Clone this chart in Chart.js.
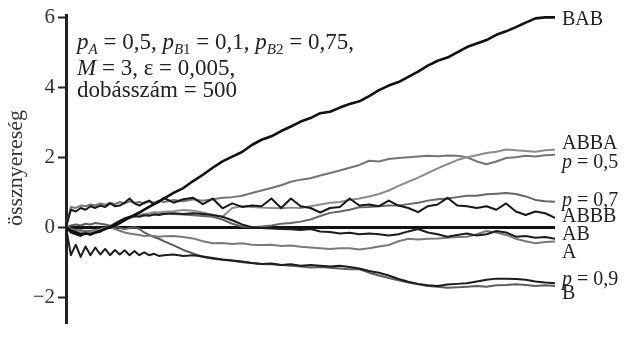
<!DOCTYPE html>
<html>
<head>
<meta charset="utf-8">
<script src="https://cdn.jsdelivr.net/npm/chart.js@4.4.1/dist/chart.umd.min.js"></script>
<style>
  html, body { margin: 0; padding: 0; background: #fff; }
  #c { display: block; }
</style>
</head>
<body>
<canvas id="c" width="626" height="339"></canvas>
<script>
// dobásszám (x), step 5 for the first 100 games, then 10
const games = [0,5,10,15,20,25,30,35,40,45,50,55,60,65,70,75,80,85,90,95,100,
  110,120,130,140,150,160,170,180,190,200,210,220,230,240,250,260,270,280,290,300,
  310,320,330,340,350,360,370,380,390,400,410,420,430,440,450,460,470,480,490,500];

// össznyereség per strategy
const bab = [0,-0.1,-0.15,-0.2,-0.18,-0.2,-0.15,-0.12,-0.05,0,0.05,0.12,0.2,0.28,0.35,0.42,0.5,0.58,0.66,0.74,0.82,
  0.98,1.12,1.32,1.5,1.7,1.88,2.02,2.15,2.35,2.5,2.6,2.75,2.88,3.02,3.12,3.26,3.3,3.42,3.52,3.6,
  3.75,3.92,4.05,4.15,4.3,4.45,4.62,4.76,4.85,5.0,5.15,5.25,5.35,5.5,5.6,5.72,5.85,5.97,6.0,6.0];
const abbb = [0,0.5,0.45,0.55,0.5,0.6,0.55,0.62,0.58,0.68,0.6,0.62,0.7,0.82,0.68,0.62,0.7,0.76,0.65,0.72,0.84,
  0.7,0.8,0.84,0.66,0.82,0.54,0.68,0.58,0.62,0.6,0.82,0.55,0.82,0.6,0.55,0.42,0.55,0.58,0.82,0.62,
  0.65,0.6,0.76,0.62,0.55,0.43,0.6,0.65,0.84,0.62,0.6,0.55,0.6,0.5,0.68,0.45,0.35,0.45,0.4,0.27];
const ab = [0,-0.15,-0.2,-0.25,-0.18,-0.22,-0.15,-0.1,-0.05,0.02,0.1,0.18,0.25,0.3,0.32,0.3,0.34,0.33,0.36,0.35,0.38,
  0.4,0.38,0.4,0.38,0.35,0.3,0.2,0.08,0.0,-0.02,-0.04,-0.05,-0.06,-0.08,-0.05,-0.12,-0.14,-0.18,-0.16,-0.2,
  -0.18,-0.2,-0.24,-0.2,-0.12,-0.05,-0.15,-0.2,-0.27,-0.22,-0.18,-0.24,-0.2,-0.11,-0.15,-0.27,-0.25,-0.3,-0.28,-0.33];
const p09 = [0,-0.8,-0.5,-0.85,-0.55,-0.8,-0.58,-0.78,-0.62,-0.8,-0.65,-0.78,-0.66,-0.8,-0.68,-0.8,-0.72,-0.8,-0.76,-0.82,-0.8,
  -0.78,-0.82,-0.8,-0.84,-0.88,-0.92,-0.95,-0.98,-1.02,-1.05,-1.04,-1.08,-1.06,-1.1,-1.08,-1.1,-1.12,-1.1,-1.14,-1.18,
  -1.25,-1.3,-1.38,-1.48,-1.56,-1.62,-1.66,-1.68,-1.64,-1.62,-1.6,-1.55,-1.5,-1.47,-1.47,-1.48,-1.5,-1.55,-1.58,-1.6];
const abba = [0,-0.1,-0.15,-0.12,-0.2,-0.15,-0.1,-0.08,-0.02,0.02,0.08,0.15,0.2,0.26,0.3,0.35,0.38,0.4,0.43,0.42,0.44,
  0.46,0.49,0.47,0.42,0.35,0.3,0.55,0.6,0.58,0.56,0.55,0.54,0.56,0.55,0.6,0.65,0.7,0.72,0.78,0.82,
  0.88,0.95,1.05,1.18,1.3,1.42,1.55,1.68,1.8,1.92,2.0,2.06,2.12,2.16,2.22,2.2,2.18,2.16,2.2,2.22];
const p05 = [0,0.58,0.55,0.62,0.6,0.65,0.62,0.68,0.64,0.7,0.66,0.72,0.68,0.74,0.7,0.72,0.68,0.74,0.7,0.76,0.72,
  0.78,0.74,0.8,0.76,0.8,0.84,0.86,0.9,0.98,1.05,1.12,1.2,1.3,1.36,1.4,1.48,1.55,1.62,1.7,1.78,
  1.9,1.88,1.95,1.98,2.0,2.02,2.04,2.03,2.05,2.04,2.0,1.88,1.8,1.88,1.98,2.0,2.04,2.02,2.06,2.07];
const p07 = [0,-0.05,-0.1,-0.08,-0.12,-0.1,-0.08,-0.05,-0.02,0.03,0.1,0.18,0.24,0.28,0.32,0.35,0.36,0.38,0.4,0.41,0.4,
  0.38,0.36,0.34,0.32,0.3,0.22,0.1,0.02,0.0,0.02,0.05,0.1,0.12,0.16,0.22,0.32,0.41,0.45,0.5,0.57,
  0.58,0.6,0.62,0.62,0.66,0.7,0.76,0.8,0.82,0.86,0.9,0.9,0.94,0.96,0.98,0.95,0.88,0.78,0.74,0.73];
const a = [0,-0.05,-0.08,-0.12,-0.1,-0.15,-0.12,-0.08,-0.04,0,-0.05,-0.1,-0.15,-0.18,-0.2,-0.22,-0.25,-0.24,-0.25,-0.27,-0.26,
  -0.25,-0.28,-0.32,-0.4,-0.46,-0.45,-0.48,-0.46,-0.5,-0.51,-0.5,-0.54,-0.52,-0.56,-0.58,-0.6,-0.62,-0.6,-0.6,-0.64,
  -0.6,-0.55,-0.51,-0.4,-0.33,-0.35,-0.33,-0.32,-0.3,-0.28,-0.27,-0.2,-0.11,-0.15,-0.22,-0.33,-0.4,-0.46,-0.42,-0.41];
const b = [0,0.05,0.08,0.05,0.1,0.08,0.12,0.1,0.08,0.04,0.02,-0.02,-0.05,-0.02,0,-0.05,-0.15,-0.22,-0.28,-0.33,-0.4,
  -0.52,-0.65,-0.75,-0.85,-0.9,-0.93,-0.96,-1.0,-1.02,-1.05,-1.06,-1.08,-1.1,-1.12,-1.15,-1.14,-1.16,-1.18,-1.2,-1.2,
  -1.3,-1.38,-1.45,-1.52,-1.58,-1.63,-1.68,-1.7,-1.73,-1.72,-1.7,-1.68,-1.7,-1.66,-1.65,-1.63,-1.65,-1.68,-1.66,-1.68];

const yTicks = [-2, 0, 2, 4, 6];

// first ones end up on top
const seriesNames = ['BAB', 'ABBB', 'AB', 'p = 0,9', 'ABBA', 'p = 0,5', 'p = 0,7', 'A', 'B'];
const seriesValues = [bab, abbb, ab, p09, abba, p05, p07, a, b];
const seriesColors = ['#111', '#181818', '#1c1c1c', '#1c1c1c', '#8c8c8c', '#747474', '#666', '#7a7a7a', '#5c5c5c'];

// line-end labels and the value their cap-centre sits at
const labelNames = ['BAB', 'ABBA', 'p = 0,5', 'p = 0,7', 'ABBB', 'AB', 'A', 'p = 0,9', 'B'];
const labelY = [5.99, 2.43, 1.9, 0.8, 0.34, -0.16, -0.67, -1.44, -1.85];

const serif = "'Liberation Serif', 'Times New Roman', serif";

// annotation, [text, style]: i = italic, s = subscript, si = italic subscript
const note = [
  [['p', 'i'], ['A', 'si'], [' = 0,5, ', ''], ['p', 'i'], ['B', 'si'], ['1', 's'], [' = 0,1, ', ''],
   ['p', 'i'], ['B', 'si'], ['2', 's'], [' = 0,75,', '']],
  [['M', 'i'], [' = 3, ε = 0,005,', '']],
  [['dobásszám = 500', '']]
];
const noteBase = [49, 75, 97];

function drawRich(ctx, parts, x, y, size) {
  parts.forEach(function(p) {
    var sub = p[1].indexOf('s') >= 0;
    var it = p[1].indexOf('i') >= 0;
    var fs = sub ? Math.round(size * 0.66) : size;
    ctx.font = (it ? 'italic ' : '') + fs + 'px ' + serif;
    ctx.fillText(p[0], x, y + (sub ? size * 0.22 : 0));
    x += ctx.measureText(p[0]).width;
  });
}

function labelParts(name) {
  if (name.charAt(0) === 'p') return [['p', 'i'], [name.slice(1), '']];
  return [[name, '']];
}

const textPlugin = {
  id: 'texts',
  afterDraw: function(chart) {
    var ctx = chart.ctx, ys = chart.scales.y, area = chart.chartArea;
    ctx.save();
    ctx.fillStyle = '#222';
    ctx.textAlign = 'left';
    ctx.textBaseline = 'alphabetic';
    note.forEach(function(parts, i) { drawRich(ctx, parts, 77, noteBase[i], 23); });

    labelNames.forEach(function(n, i) {
      drawRich(ctx, labelParts(n), area.right + 7, ys.getPixelForValue(labelY[i]) + 7, 20);
    });

    // y axis title
    ctx.translate(16, 168);
    ctx.rotate(-Math.PI / 2);
    ctx.textAlign = 'center';
    ctx.textBaseline = 'middle';
    ctx.font = '22px ' + serif;
    ctx.fillStyle = '#333';
    ctx.fillText('össznyereség', 0, 0);
    ctx.restore();
  }
};

const datasets = seriesNames.map(function(name, i) {
  return {
    label: name,
    data: games.map(function(g, j) { return { x: g, y: seriesValues[i][j] }; }),
    borderColor: seriesColors[i],
    borderWidth: i === 0 ? 2.6 : 2,
    pointRadius: 0,
    tension: 0,
    borderJoinStyle: 'round',
    borderCapStyle: 'round',
    fill: false
  };
});

new Chart(document.getElementById('c'), {
  type: 'line',
  data: { datasets: datasets },
  options: {
    responsive: false,
    animation: false,
    devicePixelRatio: 1,
    layout: { padding: { top: 15, right: 71, bottom: 0, left: 0 } },
    plugins: { legend: { display: false }, tooltip: { enabled: false } },
    scales: {
      x: { type: 'linear', min: 0, max: 500, display: false },
      y: {
        min: -2.75,
        max: 6.05,
        z: 1,
        afterBuildTicks: function(scale) {
          scale.ticks = yTicks.map(function(v) { return { value: v }; });
        },
        afterFit: function(scale) { scale.width = 66; },
        border: { display: true, color: '#222', width: 3 },
        grid: {
          drawOnChartArea: true,
          color: function(c) { return c.tick && c.tick.value === 0 ? '#111' : 'rgba(0,0,0,0)'; },
          lineWidth: function(c) { return c.tick && c.tick.value === 0 ? 3 : 1; },
          tickColor: '#222',
          tickWidth: 2,
          tickLength: 8
        },
        ticks: {
          padding: 3,
          color: '#333',
          font: { family: serif, size: 21 },
          callback: function(v) { return v < 0 ? '\u2212' + Math.abs(v) : String(v); }
        }
      }
    }
  },
  plugins: [textPlugin]
});
</script>
</body>
</html>
